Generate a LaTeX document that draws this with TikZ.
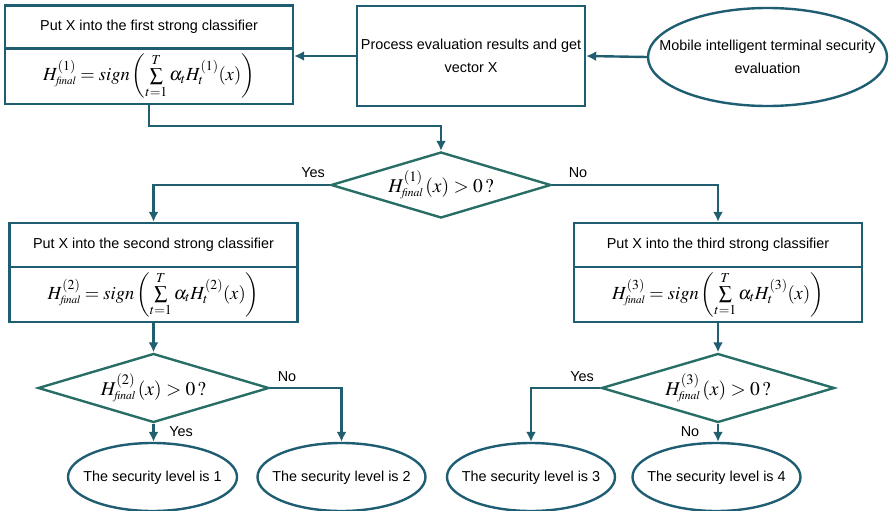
\documentclass[tikz,border=0pt]{standalone}
\usepackage{mathptmx}
\usepackage[no-math]{fontspec}
\setmainfont{Liberation Sans}
\usetikzlibrary{arrows.meta,shapes.geometric}
\definecolor{boxc}{RGB}{31,93,115}
\definecolor{diac}{RGB}{40,110,102}
\definecolor{linec}{RGB}{33,95,112}
\newcommand{\fin}{{\scriptscriptstyle\mathit{final}}}
\newcommand{\fml}[1]{{\fontsize{18.5}{20}\selectfont$H^{(#1)}_{\fin} = \mathit{sign}\left(\sum\limits_{t=1}^{T}\alpha_t H_t^{(#1)}(x)\right)$}}
\newcommand{\cond}[1]{{\fontsize{19.5}{22}\selectfont$H^{(#1)}_{\fin}\,(x) > 0\,?$}}
\newcommand{\ztext}[1]{\makebox[0pt]{\begin{tabular}{@{}c@{}}#1\end{tabular}}}
\begin{document}
\begin{tikzpicture}[x=1pt,y=-1pt,
  font=\fontsize{14.4}{23}\selectfont,
  box/.style={draw=boxc, line width=2.4pt, rectangle, inner sep=0pt, minimum width=288pt},
  dia/.style={draw=diac, line width=2.4pt, diamond, inner sep=0pt, aspect=3.3},
  ell/.style={draw=boxc, line width=2.4pt, ellipse, inner sep=0pt},
  arr/.style={draw=linec, line width=2.4pt, line join=miter, -{Latex[length=10pt,width=10pt]}},
  lbl/.style={inner sep=0pt}]
\useasboundingbox (0,0) rectangle (889,511);
% top row
\node[box, minimum height=43pt] (b1a) at (149,27) {Put X into the first strong classifier};
\node[box, minimum height=56pt] (b1b) at (149,76) {\fml{1}};
\node[box, minimum width=228pt, minimum height=100pt, align=center] (proc) at (471,56) {Process evaluation results and get\\vector X};
\node[ell, minimum width=239pt, minimum height=98pt] (mob) at (767.5,57) {\ztext{Mobile intelligent terminal security\\evaluation}};
% decision 1
\node[dia, minimum width=220pt, minimum height=66pt] (d1) at (441,185) {\cond{1}};
% second row
\node[box, minimum height=44pt] (b2a) at (153.5,245) {Put X into the second strong classifier};
\node[box, minimum height=55pt] (b2b) at (153.5,294.5) {\fml{2}};
\node[box, minimum height=44pt] (b3a) at (718,245) {Put X into the third strong classifier};
\node[box, minimum height=55pt] (b3b) at (718,294.5) {\fml{3}};
% decisions 2,3
\node[dia, minimum width=231pt, minimum height=69pt] (d2) at (153.5,388) {\cond{2}};
\node[dia, minimum width=233pt, minimum height=69pt] (d3) at (718,388) {\cond{3}};
% results
\node[ell, minimum width=169pt, minimum height=68pt] (e1) at (152.5,477) {\ztext{The security level is 1}};
\node[ell, minimum width=168pt, minimum height=68pt] (e2) at (341.5,477) {\ztext{The security level is 2}};
\node[ell, minimum width=168pt, minimum height=68pt] (e3) at (531,477) {\ztext{The security level is 3}};
\node[ell, minimum width=168pt, minimum height=68pt] (e4) at (716.5,477) {\ztext{The security level is 4}};
% connectors
\draw[arr] (mob.west) -- (proc.east);
\draw[arr] (proc.west) -- (proc.west -| b1b.east);
\draw[arr] (b1b.south) -- ++(0,21) -| (d1.north);
\draw[arr] (d1.west) -| (b2a.north);
\draw[arr] (d1.east) -| (b3a.north);
\draw[arr] (b2b.south) -- (d2.north);
\draw[arr] (b3b.south) -- (d3.north);
\draw[arr] (d2.south) -- (d2.south |- e1.north);
\draw[arr] (d2.east) -| (e2.north);
\draw[arr] (d3.west) -| (e3.north);
\draw[arr] (d3.south) -- (d3.south |- e4.north);
% labels
\node[lbl] (y1) at (313,173) {Yes};
\node[lbl] (n1) at (578,173) {No};
\node[lbl] (n2) at (287,377) {No};
\node[lbl] (y2) at (181,432) {Yes};
\node[lbl] (y3) at (582,377) {Yes};
\node[lbl] (n3) at (690,432) {No};
\end{tikzpicture}
\end{document}
